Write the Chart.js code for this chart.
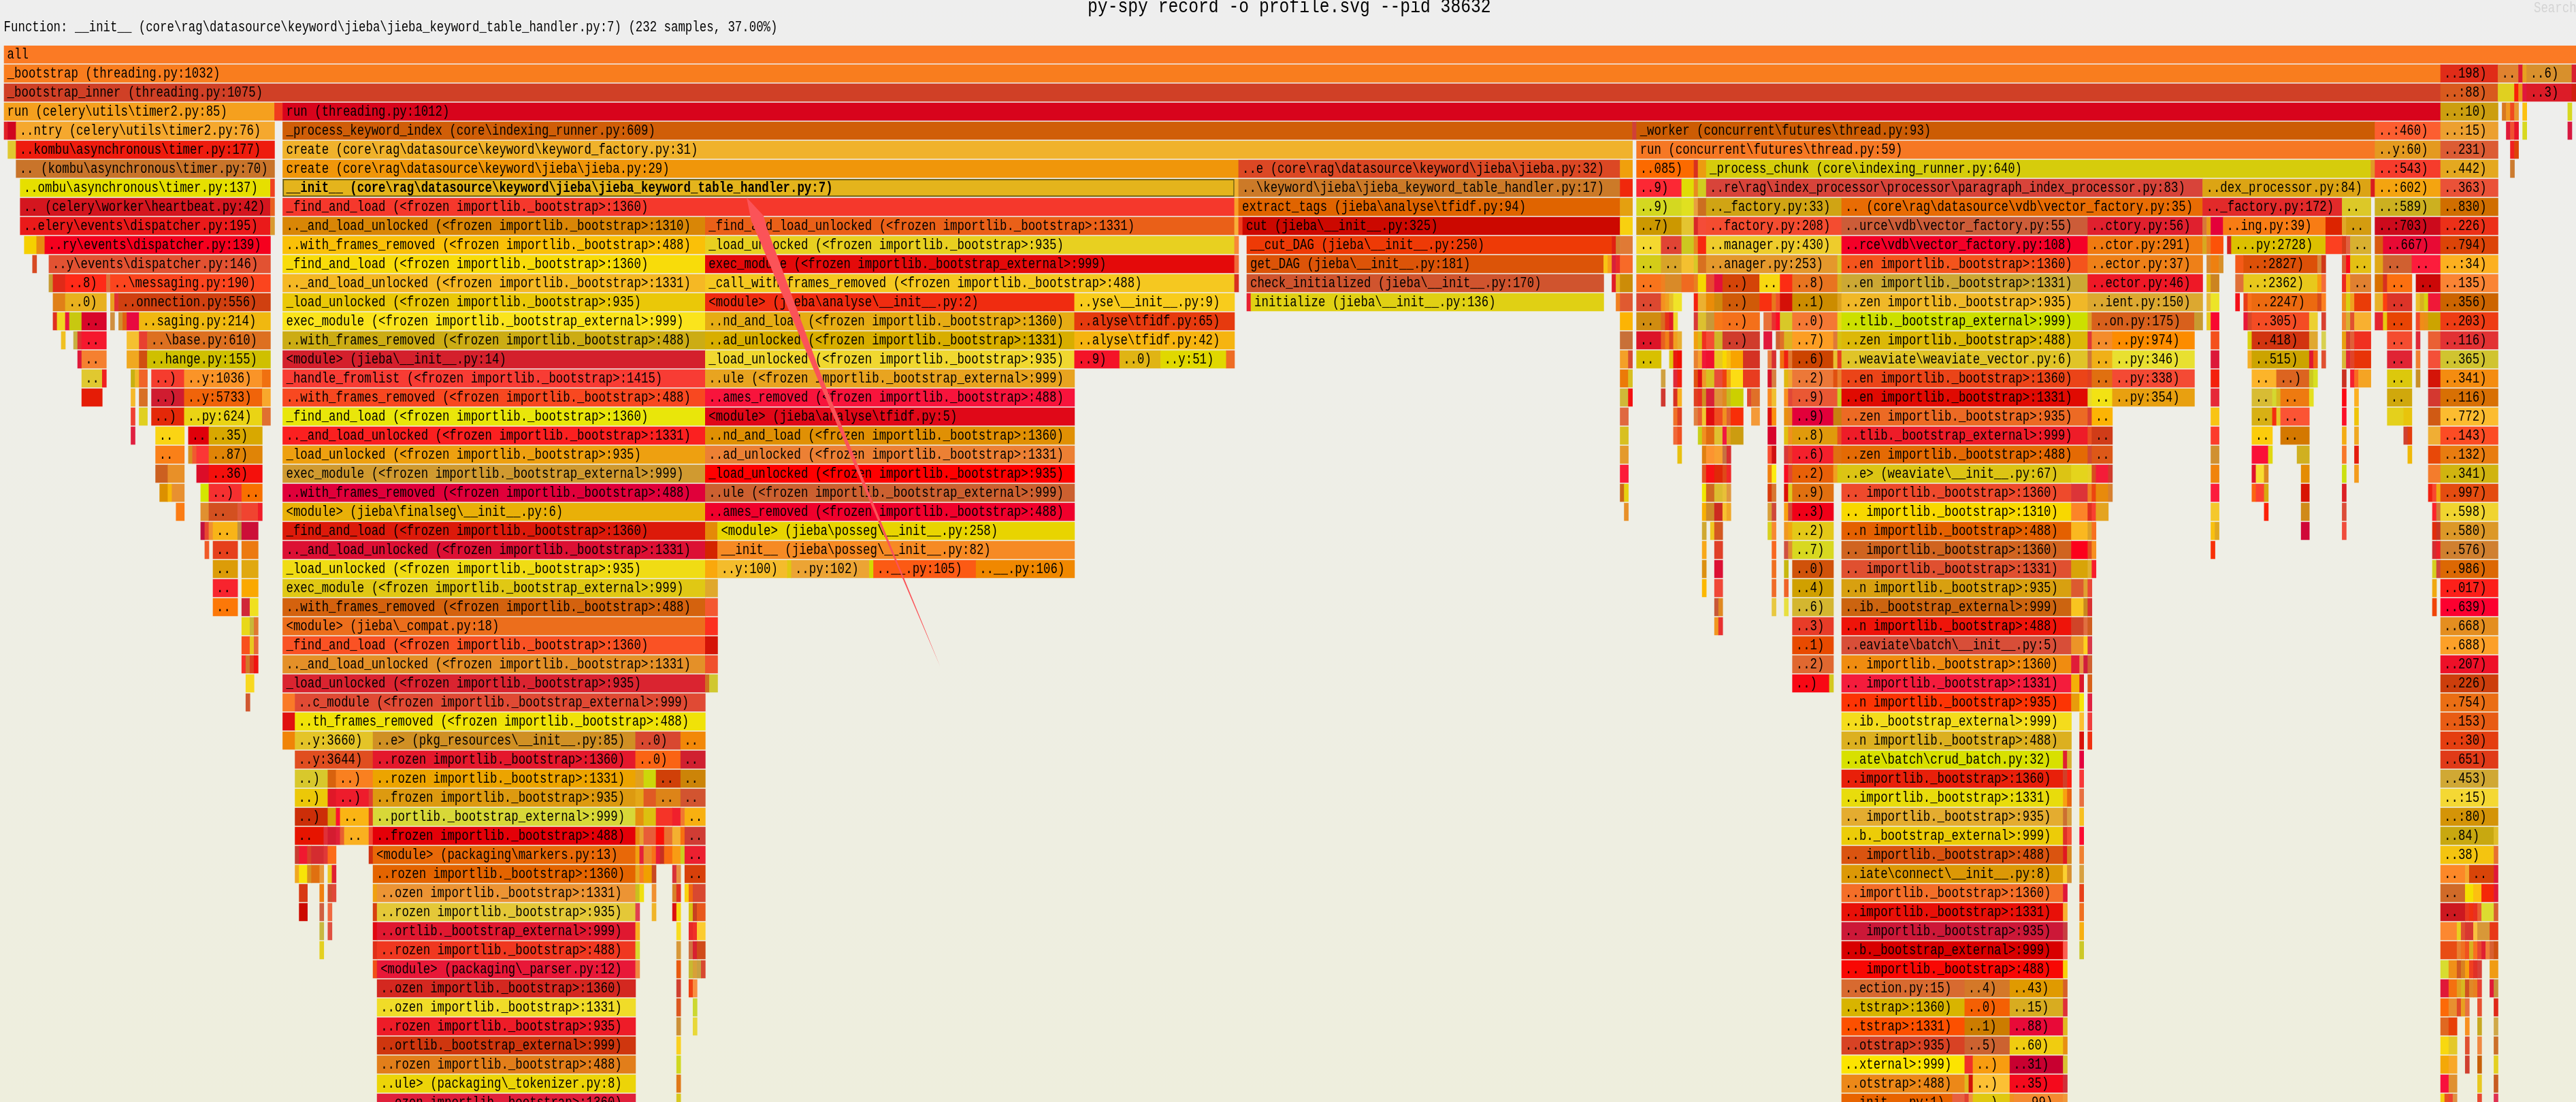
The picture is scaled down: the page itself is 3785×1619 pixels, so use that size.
<!DOCTYPE html>
<html><head><meta charset="utf-8"><title>py-spy flame graph</title>
<style>html,body{margin:0;padding:0;background:#eeeeee;overflow:hidden}canvas{display:block}</style>
<script src="https://cdn.jsdelivr.net/npm/chart.js@4/dist/chart.umd.min.js"></script>
</head><body><canvas id="c" width="3785" height="1619"></canvas>
<script>
const titleText = "py-spy record -o profile.svg --pid 38632";
const detailText = "Function: __init__ (core\\rag\\datasource\\keyword\\jieba\\jieba_keyword_table_handler.py:7) (232 samples, 37.00%)";
const searchText = "Search";
const totalSamples = 627;
const B1360 = "(<frozen importlib._bootstrap>:1360)", B1331 = "(<frozen importlib._bootstrap>:1331)", B935 = "(<frozen importlib._bootstrap>:935)", B488 = "(<frozen importlib._bootstrap>:488)", E999 = "(<frozen importlib._bootstrap_external>:999)", B1310 = "(<frozen importlib._bootstrap>:1310)", B1415 = "(<frozen importlib._bootstrap>:1415)";
const highlightedFrame = "__init__ (core\\rag\\datasource\\keyword\\jieba\\jieba_keyword_table_handler.py:7)";

const f00=[[0,627,"all"]];
const c00=["#fb7a24"];
const f01=[[0,594,"_bootstrap (threading.py:1032)"],[594,608,"..198)"],[608,613,".."],[613,614],[614,615],[615,626,"..6)"],[626,627]];
const c01=["#f97d1e","#e02c18","#e0822f","#dc1a30","#e8a020","#d8902c","#d82030"];
const f02=[[0,594,"_bootstrap_inner (threading.py:1075)"],[594,608,"..:88)"],[608,612],[612,613],[613,614],[614,615],[615,626,"..3)"],[626,627]];
const c02=["#d04026","#d85a1e","#e0d020","#f82008","#e89018","#e0183c","#dc1c28","#d02010"];
const f03=[[0,66,"run (celery\\utils\\timer2.py:85)"],[66,68],[68,594,"run (threading.py:1012)"],[594,608,"..:10)"],[609,610],[610,611],[611,612],[612,613],[614,615],[625,626]];
const c03=["#f5a01e","#f03c1e","#d8041c","#cc9e10","#d87820","#f09a20","#f04820","#e89830","#fcc010","#d8d820"];
const f04=[[0,1],[1,3],[3,66,"..ntry (celery\\utils\\timer2.py:76)"],[68,397,"_process_keyword_index (core\\indexing_runner.py:609)"],[397,398],[398,578,"_worker (concurrent\\futures\\thread.py:93)"],[578,594,"..:460)"],[594,608,"..:15)"],[610,611],[611,612],[612,613],[614,615],[625,626]];
const c04=["#e02028","#d00420","#f5a82e","#d05e08","#d04038","#cc5c04","#fc5e30","#eca030","#e01838","#f05030","#e81428","#d8d820","#d81840"];
const f05=[[1,3],[3,66,"..kombu\\asynchronous\\timer.py:177)"],[68,397,"create (core\\rag\\datasource\\keyword\\keyword_factory.py:31)"],[398,578,"run (concurrent\\futures\\thread.py:59)"],[578,594,"..y:60)"],[594,608,"..231)"],[611,612],[612,613]];
const c05=["#e0c830","#ee1c0e","#f0b22c","#f67824","#e49a20","#dc5c34","#f02020","#dc4408"];
const f06=[[3,66,".. (kombu\\asynchronous\\timer.py:70)"],[68,301,"create (core\\rag\\datasource\\keyword\\jieba\\jieba.py:29)"],[301,394,"..e (core\\rag\\datasource\\keyword\\jieba\\jieba.py:32)"],[394,397],[398,412,"..085)"],[412,413],[413,415],[415,577,"_process_chunk (core\\indexing_runner.py:640)"],[577,578],[578,594,"..:543)"],[594,608,"..442)"],[611,612]];
const c06=["#c9742a","#f0960a","#dc4824","#f0a00c","#fc6a00","#d83020","#ec9c10","#d6cc0c","#e09828","#f63c2c","#e4a820","#cc7c30"];
const f07=[[4,65,"..ombu\\asynchronous\\timer.py:137)"],[65,66],[68,300,highlightedFrame],[300,301],[301,394,"..\\keyword\\jieba\\jieba_keyword_table_handler.py:17)"],[394,397],[398,409,"..9)"],[409,412],[412,413],[413,415],[415,536,"..re\\rag\\index_processor\\processor\\paragraph_index_processor.py:83)"],[536,577,"..dex_processor.py:84)"],[577,578],[578,594,"..:602)"],[594,608,"..363)"]];
const c07=["#e6df00","#f04020","#e4b41c","#f0b030","#cc7a28","#f0280c","#fc2834","#e0dc04","#e88a20","#d0cc20","#d8443a","#dca414","#d81c20","#f4a410","#ea5238"];
const f08=[[4,65,".. (celery\\worker\\heartbeat.py:42)"],[65,66],[68,300,"_find_and_load "+B1360],[300,301],[301,394,"extract_tags (jieba\\analyse\\tfidf.py:94)"],[394,397],[398,409,"..9)"],[409,412],[412,413],[413,415],[415,448,".._factory.py:33)"],[448,536,".. (core\\rag\\datasource\\vdb\\vector_factory.py:35)"],[536,570,".._factory.py:172)"],[570,577,".."],[578,594,"..:589)"],[594,608,"..830)"]];
const c08=["#d4161f","#e86020","#f5382c","#f8a028","#e06400","#e4a010","#d4d820","#e0e020","#e8a040","#cc6e20","#d0a414","#e86c04","#e22a2a","#dcc828","#ccb020","#d06e00"];
const f09=[[4,65,"..elery\\events\\dispatcher.py:195)"],[65,66],[68,171,".._and_load_unlocked "+B1310],[171,300,"_find_and_load_unlocked "+B1331],[300,301],[301,302],[302,394,"cut (jieba\\__init__.py:325)"],[394,397],[398,409,"..7)"],[409,412],[412,413],[413,415],[415,448,"..factory.py:208)"],[448,508,"..urce\\vdb\\vector_factory.py:55)"],[508,536,"..ctory.py:56)"],[536,537],[537,538],[538,541],[541,566,"..ing.py:39)"],[566,570],[570,571],[571,577,".."],[578,594,"..:703)"],[594,608,"..226)"]];
const c09=["#ea1a1a","#d89a30","#d98606","#ea6018","#f8b038","#f04020","#cc0800","#f8d010","#cc9800","#e4c430","#d82828","#f44c38","#f44c30","#cc5c38","#e0202e","#d87838","#e89818","#e4003a","#f87c14","#dc2400","#e0a828","#d49c10","#cc0a1c","#ec3018"];
const f10=[[5,8],[8,10],[10,65,"..ry\\events\\dispatcher.py:139)"],[68,171,"..with_frames_removed "+B488],[171,300,"_load_unlocked "+B935],[300,301],[303,392,"__cut_DAG (jieba\\__init__.py:250)"],[392,393],[393,394],[394,397],[398,404,".."],[404,409,".."],[409,412],[412,413],[413,415],[415,448,"..manager.py:430)"],[448,508,"..rce\\vdb\\vector_factory.py:108)"],[508,536,"..ctor.py:291)"],[536,537],[537,538],[538,541],[542,543],[543,566,"...py:2728)"],[566,570],[570,571],[571,572],[572,577,".."],[578,580],[580,594,"..667)"],[594,608,"..794)"]];
const c10=["#f5d000","#e88a10","#f5001e","#fac008","#e8d020","#f88838","#ee3a06","#e02010","#d08030","#e07a35","#f4d830","#e04434","#ccc820","#e88a20","#f82810","#eecc2c","#f40028","#f07a10","#d8a820","#e88020","#fc5208","#d02020","#dcc000","#fc4020","#d83c18","#e06040","#d8b030","#d85a10","#e80a34","#dc4408"];
const f11=[[7,8],[11,65,"..y\\events\\dispatcher.py:146)"],[68,171,"_find_and_load "+B1360],[171,300,"exec_module "+E999],[300,301],[303,390,"get_DAG (jieba\\__init__.py:181)"],[390,391],[391,392],[392,393],[393,394],[394,397],[398,404,".."],[404,409,".."],[409,412],[412,413],[413,415],[415,447,"..anager.py:253)"],[447,448],[448,508,"..en importlib._bootstrap>:1360)"],[508,536,"..ector.py:37)"],[537,538],[538,540],[540,541],[544,546],[546,564,"..:2827)"],[564,565],[565,566],[570,571],[571,572],[572,577,".."],[578,580],[580,587,".."],[587,594,".."],[594,608,"..:34)"]];
const c11=["#d84a22","#e25232","#f8dc0a","#e40a0a","#f06838","#dc5408","#f8c414","#f8a018","#d82038","#e82828","#f76a28","#d4cc18","#d8a428","#f4c030","#d8c828","#d87020","#e4982c","#d8c828","#f4541c","#ee8018","#d88830","#ee8010","#d89028","#f45a18","#dc5008","#d88838","#d03818","#d85c30","#fc0818","#e4c014","#e0a818","#d06030","#fc1c3c","#fcb020"];
const f12=[[11,12],[12,15],[15,25,"..8)"],[25,26],[26,65,"..\\messaging.py:190)"],[68,171,".._and_load_unlocked "+B1331],[171,300,"_call_with_frames_removed "+B488],[300,301],[303,390,"check_initialized (jieba\\__init__.py:170)"],[392,393],[393,394],[394,397],[398,404,".."],[404,405],[405,409],[409,412],[412,413],[413,415],[415,417],[417,419],[419,428,"..)"],[428,433,".."],[433,436],[436,447,"..8)"],[447,448],[448,508,"..en importlib._bootstrap>:1331)"],[508,536,"..ector.py:46)"],[537,538],[538,540],[544,546],[546,564,"..:2362)"],[564,565],[565,566],[570,571],[571,572],[572,577,".."],[578,580],[580,581],[581,587,".."],[588,594,".."],[594,608,"..135)"]];
const c12=["#c89a30","#e02a18","#ff2a18","#e0703a","#fb451e","#f5b824","#f5c820","#d83020","#d0542e","#e01c28","#e8b420","#cc8c08","#f8741c","#f08020","#d98a28","#f06a20","#e88020","#f5d800","#e84830","#e4103a","#d44408","#f8d810","#fc2c14","#e87420","#d8b020","#cca834","#ee1826","#e0b810","#cc8420","#e07038","#e8c81c","#f89c10","#f46c38","#ec2820","#f8a810","#e08030","#d87000","#d83020","#fc7010","#cc0808","#fa8434"];
const f13=[[12,15],[15,25,"..0)"],[26,27],[27,28],[28,65,"..onnection.py:556)"],[68,171,"_load_unlocked "+B935],[171,261,"<module> (jieba\\analyse\\__init__.py:2)"],[261,300,"..yse\\__init__.py:9)"],[303,304],[304,390,"initialize (jieba\\__init__.py:136)"],[393,394],[394,397],[398,404,".."],[404,405],[405,406],[406,407],[407,409],[412,413],[413,415],[415,417],[417,419],[419,428,"..)"],[428,431],[431,432],[432,433],[433,436],[436,447,"..1)"],[447,448],[448,508,"..zen importlib._bootstrap>:935)"],[508,536,"..ient.py:150)"],[537,538],[538,540],[544,545],[546,547],[547,548],[548,564,"..2247)"],[564,565],[565,566],[570,571],[571,572],[572,573],[573,577],[578,580],[580,581],[581,587,".."],[588,589],[589,590],[590,591],[591,594],[594,608,"..356)"]];
const c13=["#e08018","#e8b01e","#e8a020","#e03030","#d04010","#eac808","#f02c10","#f8cc1c","#e82030","#e0d014","#f08020","#e05a30","#dc4830","#f49020","#f0a020","#e8c028","#f0e428","#f42010","#ecb030","#ea8c08","#d0880c","#d05a08","#f83010","#e8781c","#f05028","#d41008","#cc8c00","#dca020","#f0b828","#dca830","#e8b838","#ece428","#f41018","#e83c18","#f87018","#ec6a10","#d84c18","#fc8020","#f08c18","#d8d010","#f0a020","#ea3c08","#e8b028","#fc4010","#dc3428","#ecbc28","#d8b020","#d8d010","#f01838","#cc6400"];
const f14=[[12,13],[13,15],[15,16],[16,19],[19,25,".."],[26,27],[28,29],[29,30],[30,33],[33,65,"..saging.py:214)"],[68,171,"exec_module "+E999],[171,261,"..nd_and_load "+B1360],[261,300,"..alyse\\tfidf.py:65)"],[394,397],[398,404,".."],[404,405],[405,406],[406,407],[407,408],[412,413],[413,415],[415,417],[417,419],[419,428,"..)"],[429,431],[431,432],[432,433],[433,436],[436,447,"..0)"],[447,448],[448,508,"..tlib._bootstrap_external>:999)"],[508,509],[509,534,"..on.py:175)"],[534,536],[537,538],[538,540],[546,547],[547,548],[548,562,"..305)"],[562,564],[565,566],[570,571],[571,572],[572,573],[573,577],[578,580],[580,581],[581,587,".."],[588,589],[589,590],[590,591],[591,594],[594,608,"..203)"]];
const c14=["#e03020","#f0d820","#e81840","#c8c810","#d8062a","#d09040","#d09030","#e06010","#e80a40","#f0b810","#fae41c","#e6ac14","#e63a0e","#fcb404","#d08c10","#d86c20","#e83018","#e01828","#f0d828","#d83838","#dcc030","#c89838","#f87818","#f4701a","#e87038","#e83030","#fc0c24","#d8c828","#f47834","#e8d818","#cce000","#dca028","#d8601c","#c89a30","#e8c820","#f80830","#e81838","#d84828","#f44c24","#ecd030","#d84030","#f08030","#d8b030","#e05030","#f8b030","#e42430","#e8c810","#e84404","#f04828","#f08c18","#e89018","#cca400","#ee3c14"];
const f15=[[14,15],[17,18],[18,19],[19,25,".."],[30,33],[33,35],[35,65,"..\\base.py:610)"],[68,171,"..with_frames_removed "+B488],[171,261,"..ad_unlocked "+B1331],[261,300,"..alyse\\tfidf.py:42)"],[394,397],[398,404,".."],[404,405],[405,406],[406,407],[407,408],[408,409],[412,413],[413,414],[414,415],[415,417],[417,419],[419,428,"..)"],[429,431],[432,433],[433,434],[434,436],[436,446,"..7)"],[446,447],[447,448],[448,508,"..zen importlib._bootstrap>:488)"],[508,509],[509,514,".."],[514,534,"..py:974)"],[538,540],[547,548],[548,562,"..418)"],[562,564],[565,566],[570,571],[571,572],[572,573],[573,577],[581,587,".."],[588,589],[591,594],[594,608,"..116)"]];
const c15=["#f0c020","#c8b040","#e03030","#f5182e","#f5c030","#e84030","#dd7020","#ccac14","#d8ae00","#f6b410","#c87038","#dc1428","#e86020","#f08018","#dc4020","#f0a020","#e8b030","#f0a010","#dcb814","#f03020","#f44c34","#d0b428","#d03c2c","#e0183c","#d06030","#e07028","#dcb420","#fc9e24","#e07838","#d8c010","#dcb808","#e03838","#f48c2c","#fc8c00","#f4501c","#dcd010","#d23410","#e0a830","#d8d050","#e8a010","#d84030","#e06038","#f03020","#f44c30","#e02838","#ea6034","#e23234","#d87004"];
const f16=[[18,19],[19,25,".."],[30,33],[33,35],[35,65,"..hange.py:155)"],[68,171,"<module> (jieba\\__init__.py:14)"],[171,261,"_load_unlocked "+B935],[261,272,"..9)"],[272,282,"..0)"],[282,298,"..y:51)"],[298,300],[394,396],[396,397],[398,404,".."],[406,407],[407,408],[408,409],[412,413],[413,414],[414,415],[415,417],[417,419],[419,420],[420,421],[421,424],[424,428],[430,431],[431,432],[433,434],[434,435],[435,436],[436,446,"..6)"],[446,447],[447,448],[448,508,"..weaviate\\weaviate_vector.py:6)"],[508,509],[509,514,".."],[514,534,"..py:346)"],[538,540],[547,548],[548,562,"..515)"],[562,563],[563,564],[565,566],[570,571],[571,572],[572,573],[573,577],[581,587,".."],[588,589],[591,594],[594,608,"..365)"]];
const c16=["#e0183a","#f58030","#f0a820","#d05010","#cfc000","#d4202c","#f0d830","#f41428","#e0b414","#e0d800","#ee6c24","#f4a028","#d84c30","#d8c000","#e0c810","#e81a10","#f01000","#e88030","#f4a030","#f01838","#f01030","#e8c820","#f8d800","#f8c010","#f8a400","#d43224","#e88040","#d83030","#f07010","#f02010","#e07830","#cc4400","#e8c030","#e84020","#e0c428","#d07838","#f0b018","#e8e030","#dc1838","#f4b028","#cca400","#e01830","#f06010","#e05030","#d8b838","#e02838","#e04428","#e83408","#e02434","#f08030","#f45038","#d0c430"];
const f17=[[19,24,".."],[24,25],[31,32],[32,33],[33,35],[36,44,"..)"],[44,63,"..y:1036)"],[63,65],[68,171,"_handle_fromlist "+B1415],[171,261,"..ule "+E999],[394,396],[396,397],[404,405],[407,408],[408,409],[412,413],[413,414],[414,415],[415,417],[417,419],[419,420],[420,421],[421,424],[424,428],[430,431],[431,432],[434,435],[435,436],[436,446,"..2)"],[446,447],[447,448],[448,508,"..en importlib._bootstrap>:1360)"],[508,509],[509,514,".."],[514,534,"..py:338)"],[538,540],[548,554,".."],[554,562,"..)"],[562,563],[563,564],[570,571],[572,573],[573,574],[574,577],[581,587,".."],[588,589],[591,594],[594,608,"..341)"]];
const c17=["#e0c830","#f02020","#c8b010","#f0b828","#f06428","#f53c2e","#fa9428","#f07010","#f83c34","#e8a420","#ec7a08","#d8c020","#d0a040","#e02838","#f42010","#e05010","#e01010","#f09828","#d8c020","#e84c38","#f04010","#f0a010","#fcdc14","#e83c20","#d81428","#d88040","#e0b810","#f0a830","#ec7838","#e05010","#e8802c","#eb4418","#e04020","#e07010","#f44a34","#f4200c","#fcb42a","#dc6420","#ccc820","#d8e020","#cc3020","#f42030","#fa6a20","#f4a424","#dcc80c","#c89028","#d41408","#f48c10"];
const f18=[[19,24],[31,32],[33,35],[36,44,"..)"],[44,63,"..y:5733)"],[63,65],[68,171,"..with_frames_removed "+B488],[171,261,"..ames_removed "+B488],[394,396],[396,397],[404,405],[407,408],[408,409],[412,413],[413,414],[414,415],[415,417],[417,419],[419,420],[420,421],[421,424],[425,426],[426,428],[430,431],[431,432],[434,435],[435,436],[436,447,"..9)"],[447,448],[448,508,"..en importlib._bootstrap>:1331)"],[508,509],[509,514,".."],[514,534,"..py:354)"],[538,540],[548,553,".."],[553,554],[554,555],[555,562,".."],[562,563],[570,571],[573,574],[581,587,".."],[591,594],[594,608,"..116)"]];
const c18=["#e51c06","#f5b82a","#d87025","#d01c30","#f0640a","#f8a82c","#f84820","#f8143c","#d0b838","#f41010","#d03830","#d83020","#f8b020","#e04020","#e83020","#d09020","#d82038","#e09038","#e08820","#c8b820","#ccd000","#e04830","#e07028","#f88820","#f0c030","#f89020","#e04838","#ea5834","#c8d020","#e00a02","#e8d830","#f2e214","#e8a010","#e62838","#d8bc34","#d4d830","#d8b820","#ee7a10","#e4e020","#fc0a14","#fcb020","#d0a80c","#d43830","#d87004"];
const f19=[[31,32],[33,35],[36,44,"..)"],[44,63,"..py:624)"],[63,65],[68,171,"_find_and_load "+B1360],[171,261,"<module> (jieba\\analyse\\tfidf.py:5)"],[394,396],[407,408],[408,409],[412,413],[413,414],[414,415],[415,417],[417,419],[419,420],[420,421],[421,424],[426,428],[430,431],[431,432],[434,435],[435,436],[436,446,"..9)"],[446,448],[448,508,"..zen importlib._bootstrap>:935)"],[508,509],[509,514,".."],[538,540],[548,553,".."],[553,554],[554,555],[555,562,".."],[570,571],[573,574],[581,585],[585,587],[591,594],[594,608,"..772)"]];
const c19=["#f04030","#e0d020","#e42808","#ead414","#e07030","#e9e60a","#e00818","#e06840","#f07028","#e04020","#e08040","#e86030","#f0c830","#e00c10","#f04c20","#f09020","#e06030","#f82e08","#f49a38","#dc1010","#fa9010","#e89010","#e88820","#e2003a","#c88010","#ec6a24","#d84030","#fcb404","#f8c414","#d8b014","#f42e10","#e8c828","#fb5434","#fc1028","#f0c408","#e4d01c","#e8c40c","#d05a14","#fcbc30"];
const f20=[[31,32],[37,44,".."],[45,50,".."],[50,63,"..35)"],[68,171,".._and_load_unlocked "+B1331],[171,261,"..nd_and_load "+B1360],[394,396],[407,408],[408,409],[413,414],[414,415],[415,417],[417,419],[419,420],[420,421],[421,424],[430,432],[434,435],[435,436],[436,447,"..8)"],[447,448],[448,508,"..tlib._bootstrap_external>:999)"],[508,509],[509,514,".."],[538,540],[548,553,".."],[555,562,".."],[570,571],[573,574],[585,586],[586,587],[591,594],[594,608,"..143)"]];
const c20=["#e02040","#fad414","#e0000a","#d8a800","#fb2020","#e09004","#d8c020","#f06838","#f05020","#c8d018","#f09020","#e06c10","#e0c030","#f01840","#e0a020","#cc9c10","#d8042c","#e0c010","#f09020","#e09a0c","#e85020","#ee1c28","#e85020","#d03c18","#fc3c2c","#fccc0c","#d47800","#f4ac14","#f0a820","#d04030","#e43c0c","#f0ae34","#fc4c24"];
const f21=[[37,44,".."],[45,46],[46,47],[47,50],[50,63,"..87)"],[68,171,"_load_unlocked "+B935],[171,261,"..ad_unlocked "+B1331],[394,396],[408,409],[414,415],[415,417],[417,419],[419,420],[420,421],[430,431],[431,432],[434,435],[435,436],[436,446,"..6)"],[446,448],[448,508,"..zen importlib._bootstrap>:488)"],[508,509],[509,514,".."],[538,540],[548,552],[552,553],[559,562],[570,571],[573,574],[586,587],[591,594],[594,608,"..132)"]];
const c21=["#fa8018","#d89020","#f05a30","#fb3636","#e08406","#eea010","#ec8034","#e49a2c","#e8c010","#e08010","#fc9430","#f8a030","#c87040","#d83030","#f84c30","#d01010","#d83838","#e84028","#f4202c","#e07010","#e46a04","#d04830","#dd5818","#d09030","#fa1038","#e0d810","#d0b020","#f87828","#e41c0c","#f0b808","#e84808","#e87c10"];
const f22=[[37,40],[40,44],[47,50],[50,63,"..36)"],[68,171,"exec_module "+E999],[171,261,"_load_unlocked "+B935],[394,396],[414,415],[415,417],[417,419],[419,420],[420,421],[430,431],[431,432],[434,435],[435,436],[436,446,"..2)"],[446,447],[447,448],[448,504,"..e> (weaviate\\__init__.py:67)"],[504,508],[508,509],[509,510],[510,513],[513,514],[538,540],[548,549],[549,551],[551,552],[560,562],[570,571],[573,574],[591,594],[594,608,"..341)"]];
const c22=["#cc6020","#e89028","#dc0c28","#f4100c","#d09a30","#fe0000","#fc1c38","#e05820","#f81014","#e02808","#e04818","#f02828","#f08010","#fcec10","#f80c20","#e04830","#e86008","#f0a020","#d8c810","#dcc414","#e4d41c","#e8d028","#d84c20","#f41c38","#d03c2c","#f0840c","#e0102c","#f8dc30","#dc8820","#e48c04","#cce010","#f49c1c","#f47c2c","#d0b410"];
const f23=[[38,40],[40,41],[41,44],[48,50],[50,58,"..)"],[58,63,".."],[68,171,"..with_frames_removed "+B488],[171,261,"..ule "+E999],[394,395],[395,396],[414,415],[415,417],[417,419],[419,420],[420,421],[430,431],[431,432],[434,435],[435,436],[436,446,"..9)"],[448,504,".. importlib._bootstrap>:1360)"],[504,508],[508,509],[509,510],[510,513],[513,514],[538,540],[548,549],[549,551],[551,552],[560,562],[570,571],[591,592],[592,593],[593,594],[594,608,"..997)"]];
const c23=["#dc9000","#f8b808","#e89030","#d4e600","#f53030","#f87000","#e0003a","#cc6030","#cc6818","#e8d010","#f0e800","#d06820","#dcbc30","#e8c038","#e09840","#d83c0c","#d87830","#dc1008","#dcc820","#e07010","#ee4a2c","#dc3438","#f08020","#ec4410","#e88a0c","#d88030","#fc1c3c","#fc6410","#fc4030","#d8a810","#d81404","#dc2024","#f02010","#f84830","#f0a810","#e44c10"];
const f24=[[42,44],[48,50],[50,57,".."],[57,58],[58,62],[62,63],[68,171,"<module> (jieba\\finalseg\\__init__.py:6)"],[171,261,"..ames_removed "+B488],[395,396],[414,415],[415,417],[417,419],[419,420],[420,421],[430,431],[431,432],[434,435],[435,436],[436,446,"..3)"],[448,504,".. importlib._bootstrap>:1310)"],[504,508],[508,509],[509,510],[510,513],[538,540],[551,552],[560,562],[570,571],[592,593],[593,594],[594,608,"..598)"]];
const c24=["#fb7c14","#e09030","#d35020","#e05a3a","#f04430","#f01c28","#e9b008","#f0002c","#e89028","#f8b000","#cf8a28","#cc2a20","#f8c030","#f0a828","#d8a038","#d04838","#f8a010","#d04838","#f00018","#f8d800","#fc8428","#e03020","#f84030","#e4a420","#f4c82c","#fc2008","#d08a18","#dc4c38","#fc242c","#d47838","#f0d430"];
const f25=[[48,49],[49,50],[50,51],[51,57,".."],[57,58],[58,62],[68,171,"_find_and_load "+B1360],[171,174],[174,261,"<module> (jieba\\posseg\\__init__.py:258)"],[414,415],[416,417],[417,419],[430,431],[431,432],[434,435],[435,436],[436,446,"..2)"],[448,504,"..n importlib._bootstrap>:488)"],[504,508],[508,509],[509,510],[538,539],[539,540],[560,562],[570,571],[592,593],[593,594],[594,608,"..580)"]];
const c25=["#c01040","#e84830","#f09030","#f8b418","#c09040","#cc0f38","#dc1a0a","#e48a08","#e8d400","#d0a830","#f0c820","#d45820","#d8d020","#f88830","#f09820","#f0a810","#e4c818","#e46000","#fab820","#dca028","#f87020","#f8c010","#e0a820","#d00838","#f04c3c","#e02c0c","#c83420","#dc9828"];
const f26=[[49,50],[51,57,".."],[58,62],[68,171,".._and_load_unlocked "+B1331],[171,174],[174,261,"__init__ (jieba\\posseg\\__init__.py:82)"],[414,415],[417,419],[431,432],[434,435],[435,436],[436,446,"..7)"],[448,504,".. importlib._bootstrap>:1360)"],[504,508],[508,509],[509,510],[538,539],[592,593],[593,594],[594,608,"..576)"]];
const c26=["#f05a28","#e6401c","#ec7a10","#dc1034","#d42400","#f68a24","#f8a818","#e04028","#f86820","#d05040","#e09030","#d8d820","#d06420","#fc001c","#e05020","#f89020","#f83008","#d42c30","#ec2028","#d08030"];
const f27=[[51,57,".."],[58,62],[68,171,"_load_unlocked "+B935],[171,174],[174,191,"..y:100)"],[191,192],[192,211,"..py:102)"],[211,212],[212,237,"..__.py:105)"],[237,261,"..__.py:106)"],[414,415],[417,419],[431,432],[434,435],[436,446,"..0)"],[448,504,".. importlib._bootstrap>:1331)"],[504,508],[508,509],[509,510],[592,593],[593,594],[594,608,"..986)"]];
const c27=["#dc9c08","#e0a810","#f0dc14","#faa80c","#f4bc2c","#e0c810","#eca434","#d4d800","#fc5a14","#f08800","#dc9010","#dc1034","#f07020","#c8b810","#d0520a","#e05030","#d8a408","#e0b030","#f81c2c","#d4d020","#d04838","#dc6804"];
const f28=[[51,57,".."],[58,62],[68,171,"exec_module "+E999],[171,174],[414,415],[417,419],[431,432],[434,435],[436,446,"..4)"],[448,504,"..n importlib._bootstrap>:935)"],[504,507],[507,508],[508,509],[592,593],[594,608,"..017)"]];
const c28=["#f8242e","#faa800","#e0c814","#e0a82c","#fcb800","#f04838","#f06c28","#f06428","#d0a000","#d8a010","#dc5a30","#e0a030","#e84838","#f0a810","#fc201a"];
const f29=[[51,57,".."],[58,60],[60,62],[68,171,"..with_frames_removed "+B488],[171,174],[417,418],[418,419],[431,432],[434,435],[436,446,"..6)"],[448,504,"..ib._bootstrap_external>:999)"],[504,507],[507,508],[508,509],[592,593],[594,608,"..639)"]];
const c29=["#fc7808","#d02838","#f0e020","#d4620e","#f45830","#c85838","#e08820","#e8c840","#e8e040","#d4b630","#cc6410","#f8c420","#c88820","#d83030","#f04408","#fc0030"];
const f30=[[58,60],[60,61],[61,62],[68,171,"<module> (jieba\\_compat.py:18)"],[171,174],[417,418],[418,419],[436,446,"..3)"],[448,504,"..n importlib._bootstrap>:488)"],[504,507],[507,508],[508,509],[594,608,"..668)"]];
const c30=["#e8d818","#c8b838","#e07830","#ec6e1c","#fc3020","#f09820","#e83030","#e83c28","#ee140a","#d04428","#e07040","#d05c20","#e48e20"];
const f31=[[58,60],[60,61],[61,62],[68,171,"_find_and_load "+B1360],[171,174],[436,446,"..1)"],[448,504,"..eaviate\\batch\\__init__.py:5)"],[504,507],[507,508],[508,509],[594,608,"..688)"]];
const c31=["#f8501c","#e8c820","#e86838","#fa5224","#d41408","#e84a00","#d84e38","#ec9428","#fcd020","#d83848","#fca028"];
const f32=[[58,59],[59,60],[60,61],[61,62],[68,171,".._and_load_unlocked "+B1331],[171,174],[436,446,"..2)"],[448,504,".. importlib._bootstrap>:1360)"],[504,506],[506,507],[507,508],[508,509],[594,608,"..207)"]];
const c32=["#f83028","#d07828","#e04020","#f01410","#e49028","#f0502c","#e06830","#f08c10","#e01c38","#e89040","#d01c3c","#d06030","#ee1028"];
const f33=[[59,61],[68,171,"_load_unlocked "+B935],[171,172],[172,174],[436,445,"..)"],[445,446],[448,504,".. importlib._bootstrap>:1331)"],[504,506],[506,507],[508,509],[594,608,"..226)"]];
const c33=["#f8d820","#da2430","#d07020","#d0c830","#f80814","#d4c820","#f41c3c","#f4b008","#dc1828","#d86018","#cc3e0c"];
const f34=[[59,60],[68,71],[71,171,"..c_module "+E999],[448,504,"..n importlib._bootstrap>:935)"],[504,506],[506,507],[508,509],[594,608,"..754)"]];
const c34=["#d05830","#fa7a28","#e04a34","#fc3404","#e89c0c","#f8e408","#e02040","#ea6e14"];
const f35=[[68,71],[71,171,"..th_frames_removed "+B488],[448,504,"..ib._bootstrap_external>:999)"],[506,507],[508,509],[594,608,"..153)"]];
const c35=["#e01010","#f0e208","#f4dc1c","#fcc030","#f03c3c","#e85c14"];
const f36=[[68,71],[71,90,"..y:3660)"],[90,154,"..e> (pkg_resources\\__init__.py:85)"],[154,165,"..0)"],[165,171,".."],[448,504,"..n importlib._bootstrap>:488)"],[506,507],[508,509],[594,608,"..:30)"]];
const c36=["#f08408","#e4c428","#d09024","#d84830","#f28808","#dcb020","#d81208","#f03010","#e43e10"];
const f37=[[71,90,"..y:3644)"],[90,154,"..rozen importlib._bootstrap>:1360)"],[154,165,"..0)"],[165,171,".."],[448,502,"..ate\\batch\\crud_batch.py:32)"],[502,503],[503,504],[506,507],[594,608,"..651)"]];
const c37=["#e04e20","#e4182c","#fa6414","#d02030","#d8e000","#e02030","#d8b030","#e4003c","#e03a18"];
const f38=[[71,79,"..)"],[79,81],[81,90,"..)"],[90,154,"..rozen importlib._bootstrap>:1331)"],[154,156],[156,159],[159,165,".."],[165,171,".."],[448,502,"..importlib._bootstrap>:1360)"],[502,503],[503,504],[506,507],[594,608,"..453)"]];
const c38=["#d8c82c","#d8620e","#f98020","#eca400","#e0a020","#ccd80a","#d04008","#cc8408","#e8200a","#d04028","#fc2010","#f83838","#d0a834"];
const f39=[[71,79,"..)"],[79,81],[81,89,"..)"],[89,90],[90,154,"..frozen importlib._bootstrap>:935)"],[154,156],[156,159],[159,165,".."],[165,171,".."],[448,502,"..importlib._bootstrap>:1331)"],[502,503],[503,504],[506,507],[594,608,"..:15)"]];
const c39=["#ecc808","#e01828","#ee1c2c","#e04030","#dd9a10","#e4a818","#e05a24","#dd8418","#d25430","#e8dc0c","#f8a010","#e86410","#e87040","#f4d834"];
const f40=[[71,79,"..)"],[79,81],[81,82],[82,89,".."],[89,90],[90,154,"..portlib._bootstrap_external>:999)"],[154,156],[156,159],[159,163],[163,165],[165,166],[166,171,".."],[448,502,".. importlib._bootstrap>:935)"],[502,503],[503,504],[506,507],[594,608,"..:80)"]];
const c40=["#cc2e08","#d8a408","#fc1030","#fab414","#e04020","#d8d838","#e49010","#dcc010","#f53428","#f0202c","#f07830","#f8b010","#e4ac30","#cc7030","#d8a040","#f8c020","#d49408"];
const f41=[[71,78,".."],[78,79],[79,81],[81,82],[82,83],[83,89,".."],[89,90],[90,154,"..frozen importlib._bootstrap>:488)"],[154,155],[155,156],[156,159],[159,161],[161,163],[163,165],[165,166],[166,171,".."],[448,502,"..b._bootstrap_external>:999)"],[502,503],[503,504],[506,507],[594,607,"..84)"],[607,608]];
const c41=["#e61400","#e03038","#d41c30","#e02038","#e86030","#fab020","#f04a30","#e40008","#e88a10","#e8a030","#e85c38","#fa1008","#e87030","#f4b030","#f87010","#d03c34","#eccc08","#e03028","#f45034","#fc0a30","#c8a810","#e0bc28"];
const f42=[[71,72],[72,74],[74,75],[75,78],[78,79],[79,81],[89,90],[90,154,"<module> (packaging\\markers.py:13)"],[154,155],[155,156],[156,158],[158,159],[159,160],[160,161],[161,163],[163,165],[165,166],[166,171,".."],[448,502,".. importlib._bootstrap>:488)"],[502,503],[503,504],[506,507],[594,607,"..38)"],[607,608]];
const c42=["#c83c30","#f01830","#d84028","#d42c30","#e03838","#fc6c18","#d03010","#e86808","#f0a010","#e4223a","#ec8a2c","#f87018","#e81c38","#c83020","#f86c10","#f89c14","#ccd020","#ec2030","#da5410","#e01820","#d88820","#f08030","#f4c410","#e87030"];
const f43=[[71,72],[72,74],[74,75],[75,77],[77,78],[79,80],[80,81],[90,154,"..rozen importlib._bootstrap>:1360)"],[154,155],[155,156],[156,158],[158,159],[163,164],[164,165],[166,171,".."],[448,502,"..iate\\connect\\__init__.py:8)"],[502,503],[503,504],[506,507],[594,600,".."],[600,601],[601,607,".."],[607,608]];
const c43=["#f0a820","#f8e408","#d89020","#e07010","#e89838","#ecc820","#e02030","#e46400","#e8a820","#f88020","#f0a000","#c84820","#d83038","#e89040","#d8400a","#dc9806","#fcd030","#d89030","#d8a040","#fc8828","#f4a830","#d84408","#e01838"];
const f44=[[72,74],[77,78],[79,80],[80,81],[90,91],[91,154,"..ozen importlib._bootstrap>:1331)"],[154,155],[155,156],[158,159],[163,164],[164,165],[166,167],[167,168],[168,171],[448,502,"..importlib._bootstrap>:1360)"],[502,503],[506,507],[594,600,".."],[600,602],[602,604],[604,607],[607,608]];
const c44=["#d83a14","#f08010","#d05030","#e04838","#f0a010","#ec9434","#c8c020","#f0e010","#f09030","#d88028","#e03020","#fad010","#f06810","#d84830","#f46e28","#e01838","#e84018","#d06a28","#f4e000","#fcc010","#f42808","#e01838"];
const f45=[[72,74],[77,78],[79,80],[90,91],[91,154,"..rozen importlib._bootstrap>:935)"],[154,155],[158,159],[163,164],[164,165],[167,168],[168,169],[169,171],[448,502,"..importlib._bootstrap>:1331)"],[502,503],[506,507],[594,600,".."],[600,601],[601,602],[602,603],[603,604],[604,607],[607,608]];
const c45=["#cc0a00","#d06040","#f06840","#d84010","#e4c838","#e04050","#f0b428","#dc1010","#f8d810","#d8c010","#c84020","#e8581c","#e81008","#f8b030","#f07020","#cc1820","#e83820","#f03010","#e83020","#e86030","#dcdc30","#d86030"];
const f46=[[77,78],[79,80],[90,91],[91,154,"..ortlib._bootstrap_external>:999)"],[154,155],[164,165],[167,168],[168,169],[169,171],[448,502,".. importlib._bootstrap>:935)"],[502,503],[506,507],[594,598],[598,599],[599,600],[600,602],[602,603],[603,606],[606,608]];
const c46=["#c8b840","#e05040","#e00812","#e01830","#f8b020","#f8dc20","#e82828","#f03028","#fccc30","#cc1838","#c84040","#f8b010","#fc8830","#e8d020","#e05030","#d83830","#f8c040","#d89838","#e83818"];
const f47=[[77,78],[90,91],[91,154,"..rozen importlib._bootstrap>:488)"],[154,155],[164,165],[167,168],[168,169],[169,171],[448,502,"..b._bootstrap_external>:999)"],[502,503],[506,507],[594,598],[598,599],[599,600],[600,601],[601,602],[602,603],[603,604],[604,605],[605,606],[606,607],[607,608]];
const c47=["#e4d020","#e03018","#f03820","#d8d830","#d89838","#d07040","#d82030","#d04a1a","#d80000","#fc6050","#ccc828","#e84c14","#e88030","#f07020","#f05020","#d8b020","#f87020","#e84830","#e02030","#f08038","#d86030","#d05010"];
const f48=[[90,91],[91,154,"<module> (packaging\\_parser.py:12)"],[154,155],[164,165],[167,168],[168,169],[169,170],[170,171],[448,502,".. importlib._bootstrap>:488)"],[502,503],[594,596],[596,598],[598,599],[599,600],[600,601],[601,602],[602,603],[603,604],[606,608]];
const c48=["#f05018","#e81838","#f08840","#e85a10","#c8b830","#d8a038","#c8a040","#d84830","#f80804","#f8d008","#d8dc30","#f09018","#d05820","#d88020","#f8a010","#f04020","#e03028","#d84038","#f09c14"];
const f49=[[91,154,"..ozen importlib._bootstrap>:1360)"],[164,165],[167,168],[168,169],[448,478,"..ection.py:15)"],[478,489,"..4)"],[489,502,"..43)"],[502,503],[594,596],[596,598],[598,599],[599,600],[600,601],[601,602],[602,603],[603,604],[606,607],[607,608]];
const c49=["#d42820","#d04030","#f04010","#f89040","#d86a30","#d47828","#e09a00","#d86028","#e01838","#f47010","#e0a020","#d8b820","#d05020","#e08828","#e88020","#e84030","#e01c38","#c89038"];
const f50=[[91,154,"..ozen importlib._bootstrap>:1331)"],[164,165],[168,169],[448,478,"..tstrap>:1360)"],[478,489,"..0)"],[489,502,"..15)"],[502,503],[594,596],[596,598],[598,599],[599,600],[600,601],[603,604],[607,608]];
const c50=["#f0dc28","#dc5820","#ccd830","#d8b400","#f46004","#d8ac20","#e03038","#fc6a08","#e89030","#e04828","#e8a020","#e87040","#e85030","#e02818"];
const f51=[[91,154,"..rozen importlib._bootstrap>:935)"],[164,165],[168,169],[448,478,"..tstrap>:1331)"],[478,489,"..1)"],[489,502,"..88)"],[502,503],[594,596],[596,598],[600,601],[603,604],[607,608]];
const c51=["#ee1c28","#cc9038","#e8d838","#fc5000","#cc7c00","#e80a38","#e0b820","#e06820","#e84008","#f89020","#c8a820","#d0a848"];
const f52=[[91,154,"..ortlib._bootstrap_external>:999)"],[164,165],[448,478,"..otstrap>:935)"],[478,489,"..5)"],[489,502,"..60)"],[502,503],[594,596],[596,598],[600,601],[603,604],[607,608]];
const c52=["#cf360e","#fad020","#d84224","#cc6230","#f0cc10","#e89010","#f8d810","#e4c828","#e05030","#f08840","#cc7028"];
const f53=[[91,154,"..rozen importlib._bootstrap>:488)"],[164,165],[448,478,"..xternal>:999)"],[478,480],[480,489,"..)"],[489,502,"..31)"],[502,503],[594,596],[596,598],[600,601],[603,604],[607,608]];
const c53=["#e27e1a","#d0d820","#fce400","#f03028","#f89c10","#c80030","#d8c030","#f4a808","#f8a828","#d04030","#c86008","#e4d020"];
const f54=[[91,154,"..ule> (packaging\\_tokenizer.py:8)"],[164,165],[448,478,"..otstrap>:488)"],[478,479],[479,480],[480,489,"..)"],[489,502,"..35)"],[502,503],[594,596],[596,598],[603,604],[607,608]];
const c54=["#ecd408","#e07818","#ec8818","#e0b820","#d01008","#fcc034","#f40a1c","#d03038","#f8103c","#e09030","#e8c820","#c85c20"];
const f55=[[91,154,"..ozen importlib._bootstrap>:1360)"],[164,165],[448,475,"..init__.py:1)"],[475,478],[478,479],[479,480],[480,489,"..)"],[489,490],[490,502,"..99)"],[502,503],[594,595],[595,596],[596,597],[597,598],[603,604],[607,608]];
const c55=["#e0203a","#d8c820","#e86400","#e86040","#e04030","#f09040","#e0c810","#f09020","#f48a30","#f09838","#f4d010","#e85020","#f04030","#e09040","#e84830","#e03050"];

// red arrow annotation, as [sample, depth] pairs
const arrowOutline=[[181.05,7.96],[185.2,8.93],[186.2,9.68],[199.8,17.61],[228.3,32.61],[198.6,17.61],[184.5,10.36],[182.2,9.2]];

const frameRows=[f00,f01,f02,f03,f04,f05,f06,f07,f08,f09,f10,f11,f12,f13,f14,f15,f16,f17,f18,f19,f20,f21,f22,f23,f24,f25,f26,f27,f28,f29,f30,f31,f32,f33,f34,f35,f36,f37,f38,f39,f40,f41,f42,f43,f44,f45,f46,f47,f48,f49,f50,f51,f52,f53,f54,f55];
const colorRows=[c00,c01,c02,c03,c04,c05,c06,c07,c08,c09,c10,c11,c12,c13,c14,c15,c16,c17,c18,c19,c20,c21,c22,c23,c24,c25,c26,c27,c28,c29,c30,c31,c32,c33,c34,c35,c36,c37,c38,c39,c40,c41,c42,c43,c44,c45,c46,c47,c48,c49,c50,c51,c52,c53,c54,c55];

const points=[],fills=[],labels=[];
frameRows.forEach((row,depth)=>row.forEach((f,i)=>{
  points.push({x:[f[0],f[1]],y:depth});
  fills.push(colorRows[depth][i]||"#e89030");
  labels.push(f[2]||"");
}));

const MONO='"Liberation Mono", monospace';
function squeezedText(ctx,text,x,y,font,color,sx){
  ctx.save();ctx.translate(x,y);ctx.scale(sx,1);ctx.font=font;ctx.fillStyle=color;ctx.textAlign="left";ctx.textBaseline="alphabetic";ctx.fillText(text,0,0);ctx.restore();
}
const backdrop={id:"backdrop",beforeDraw(chart){
  const {ctx,width,height}=chart;
  const g=ctx.createLinearGradient(0,0,0,height);
  g.addColorStop(0,"#eeeeee");g.addColorStop(1,"#eeeedd");
  ctx.save();ctx.fillStyle=g;ctx.fillRect(0,0,width,height);ctx.restore();
}};
const overlay={id:"overlay",afterDatasetsDraw(chart){
  const {ctx}=chart,xs=chart.scales.x,ys=chart.scales.y;
  ctx.save();
  ctx.beginPath();ctx.rect(0,0,chart.width,chart.height);ctx.clip();
  points.forEach((p,i)=>{
    if(!labels[i])return;
    const bold=labels[i]===highlightedFrame;
    squeezedText(ctx,labels[i],xs.getPixelForValue(p.x[0])+5,ys.getPixelForValue(p.y)+6,(bold?"bold ":"")+"22px "+MONO,"#000",0.79);
  });
  ctx.beginPath();
  arrowOutline.forEach((a,i)=>{const X=xs.getPixelForValue(a[0]),Y=ys.getPixelForValue(a[1]-0.464);i?ctx.lineTo(X,Y):ctx.moveTo(X,Y);});
  ctx.closePath();ctx.fillStyle="#fb5358";ctx.fill();
  squeezedText(ctx,titleText,1598,18,"30px "+MONO,"#000",0.823);
  squeezedText(ctx,detailText,5.6,46,"22px "+MONO,"#000",0.79);
  squeezedText(ctx,searchText,3723,18,"22px "+MONO,"#d4d4d4",0.79);
  ctx.restore();
}};
new Chart(document.getElementById("c"),{
  type:"bar",
  data:{datasets:[{
    data:points,
    backgroundColor:fills,
    borderColor:labels.map(l=>l===highlightedFrame?"#6a5c10":"rgba(0,0,0,0)"),
    borderWidth:labels.map(l=>l===highlightedFrame?2:0),
    borderSkipped:false,
    barThickness:26
  }]},
  options:{
    indexAxis:"y",responsive:false,animation:false,devicePixelRatio:1,
    layout:{padding:{left:5.6,top:67,right:0,bottom:0}},
    plugins:{legend:{display:false},tooltip:{enabled:false},title:{display:false}},
    scales:{
      x:{type:"linear",min:0,max:totalSamples,display:false},
      y:{type:"linear",offset:false,reverse:true,min:-13/28,max:1539/28,display:false}
    }
  },
  plugins:[backdrop,overlay]
});
</script></body></html>
